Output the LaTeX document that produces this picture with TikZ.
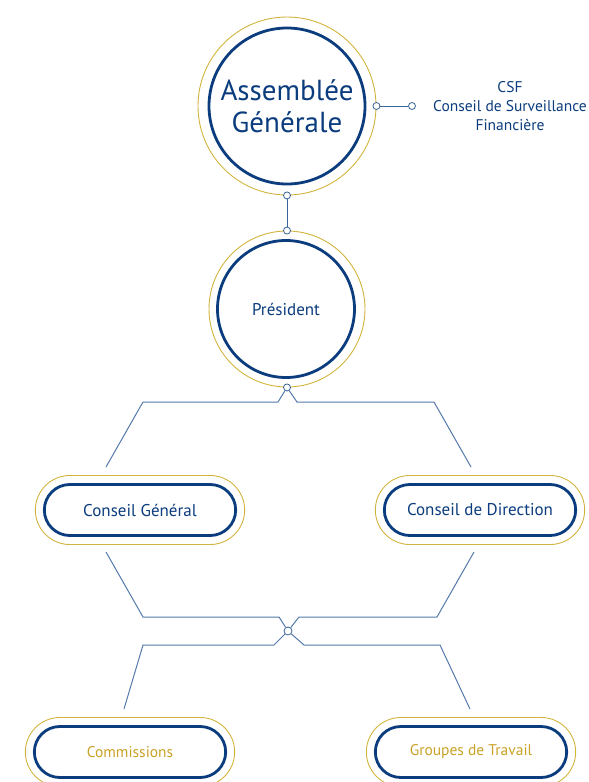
\documentclass[tikz,border=0pt]{standalone}
\usepackage{fontspec}
\setmainfont{PT Sans}
\usetikzlibrary{positioning,shapes.misc}
\definecolor{navy}{HTML}{0B3C7D}
\definecolor{gold}{HTML}{D2B43C}
\definecolor{goldtext}{HTML}{C9A227}
\definecolor{linkblue}{HTML}{5479AA}
\definecolor{darklink}{HTML}{3A6599}

\begin{document}
\begin{tikzpicture}[x=1pt,y=-1pt,
bubble/.style={circle,draw=navy,line width=2.8pt,text=navy,align=center,inner sep=0pt},
ring/.style={circle,draw=gold,line width=0.9pt,inner sep=0pt},
pill/.style={rounded rectangle,draw=navy,line width=2.8pt,minimum width=198pt,minimum height=51pt,text=navy,font=\fontsize{17}{20}\selectfont},
pillring/.style={rounded rectangle,draw=gold,line width=0.9pt,minimum width=216pt,minimum height=69pt},
dot/.style={circle,draw=darklink,fill=white,line width=0.8pt,minimum size=7pt,inner sep=0pt},
link/.style={draw=linkblue,line width=1pt}]
\useasboundingbox (0,0) rectangle (589,782);

% Assemblee Generale and CSF
\node (agring) [ring,minimum size=178pt] at (287,106) {};
\node (ag) [bubble,minimum size=156pt,font=\fontsize{29}{32}\selectfont] at (287,106) {Assemblée\\Générale};
\node (agright) [dot] at (agring.east) {};
\node (csfdot) [dot] at (412,106) {};
\draw[link,draw=darklink] (agright) -- (csfdot);
\node (csf) [text=navy,align=center,font=\fontsize{15.5}{19}\selectfont] at (510,106) {CSF\\Conseil de Surveillance\\Financière};

% President
\node (prring) [ring,minimum size=156pt] at (287,309) {};
\node (pr) [bubble,minimum size=137pt,font=\fontsize{17}{20}\selectfont] at (286,309) {Président};
\node (agbot) [dot] at (agring.south) {};
\node (prtop) [dot] at (prring.north) {};
\draw[link,draw=darklink] (agbot) -- (prtop);
\node (prbot) [dot] at (prring.south) {};

% councils
\node (cgring) [pillring] at (140,510) {};
\node (cg) [pill] at (140,510) {Conseil Général};
\node (cdring) [pillring] at (480,510) {};
\node (cd) [pill] at (480,510) {Conseil de Direction};
\node (mid) [dot,minimum size=8pt] at (288,631) {};
\node (comring) [pillring] at (130,752) {};
\node (com) [pill,text=goldtext,font=\fontsize{15.5}{18}\selectfont] at (130,752) {Commissions};
\node (gtring) [pillring] at (471,752) {};
\node (gt) [pill,text=goldtext,font=\fontsize{15.5}{18}\selectfont] at (471,752) {Groupes de Travail};

% free ends
\coordinate (cgin) at (106,467);
\coordinate (cdin) at (471,467);
\coordinate (cgout) at (106,552);
\coordinate (cdout) at (474,552);
\coordinate (comin) at (124,709);
\coordinate (gtin) at (470,709);

\draw[link] (prbot) -- (278,402) -- (143,402) -- (cgin);
\draw[link] (prbot) -- (297,402) -- (434,402) -- (cdin);
\draw[link] (cgout) -- (143,617) -- (279,617) -- (mid);
\draw[link] (cdout) -- (437,617) -- (299,617) -- (mid);
\draw[link] (mid) -- (274,645) -- (143,645) -- (comin);
\draw[link] (mid) -- (304,645) -- (440,645) -- (gtin);
\end{tikzpicture}
\end{document}
